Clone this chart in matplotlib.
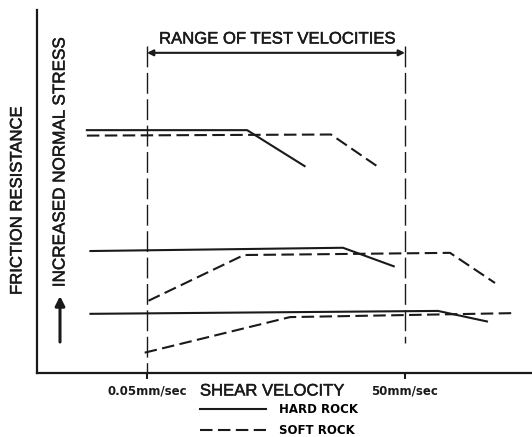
import matplotlib
matplotlib.use("Agg")
import matplotlib.pyplot as plt
import matplotlib.patheffects as pe
from matplotlib.ticker import NullLocator

# shear velocity in mm/sec (log axis), friction resistance in arbitrary units
hard_high_v = [0.01, 0.73, 3.4]
hard_high_f = [66.9, 66.9, 57.0]
soft_high_v = [0.01, 6.9, 23.6]
soft_high_f = [65.4, 65.7, 57.0]

hard_mid_v = [0.011, 9.5, 37]
hard_mid_f = [33.6, 34.5, 29.4]
soft_mid_v = [0.052, 0.67, 167, 557]
soft_mid_f = [19.9, 32.5, 33.1, 24.8]

hard_low_v = [0.011, 121, 449]
hard_low_f = [16.3, 17.1, 14.2]
soft_low_v = [0.047, 2.3, 951]
soft_low_f = [5.6, 15.4, 16.5]

test_range = [0.05, 50]
tick_labels = ['0.05mm/sec', '50mm/sec']

ink = '#1a1a1a'
dash = (0, (6, 2.6))
# scanned lettering is a little heavier than plain Liberation Sans
heavy = [pe.withStroke(linewidth=0.35, foreground=ink)]

fig = plt.figure(figsize=(5.32, 4.37), dpi=100)
ax = fig.add_axes([37 / 532, 64 / 437, 495 / 532, 363 / 437])
ax.set_xscale('log')
ax.set_xlim(0.00263, 1500)
ax.set_ylim(0, 100)

# curves
ax.plot(hard_high_v, hard_high_f, color=ink, lw=1.5, label='HARD ROCK')
ax.plot(soft_high_v, soft_high_f, color=ink, lw=1.5, ls=dash, label='SOFT ROCK')
ax.plot(hard_mid_v, hard_mid_f, color=ink, lw=1.5)
ax.plot(soft_mid_v, soft_mid_f, color=ink, lw=1.5, ls=dash)
ax.plot(hard_low_v, hard_low_f, color=ink, lw=1.5)
ax.plot(soft_low_v, soft_low_f, color=ink, lw=1.5, ls=dash)

# range of test velocities
ax.plot([test_range[0]] * 2, [90, 0], color=ink, lw=1.0, ls=(0, (15, 4)))
ax.plot([test_range[1]] * 2, [90, 8.3], color=ink, lw=1.0, ls=(0, (15, 4)))
ax.annotate('', xy=(test_range[0], 88.2), xytext=(test_range[1], 88.2),
            arrowprops=dict(arrowstyle='<|-|>', color=ink, lw=1.5,
                            mutation_scale=9, shrinkA=0, shrinkB=0))
fig.text(277 / 532, 1 - 39 / 437, 'RANGE OF TEST VELOCITIES', ha='center', va='center',
         fontsize=12, family='Liberation Sans', color=ink, path_effects=heavy)

# axes styling
for side in ['top', 'right']:
    ax.spines[side].set_visible(False)
for side in ['left', 'bottom']:
    ax.spines[side].set_linewidth(1.6)
    ax.spines[side].set_color(ink)
ax.set_yticks([])
ax.xaxis.set_minor_locator(NullLocator())
ax.set_xticks(test_range, labels=tick_labels)
ax.tick_params(axis='x', direction='out', length=4.5, width=1.5, pad=4, colors=ink,
               labelsize=8.5)
for t in ax.get_xticklabels():
    t.set_fontweight('bold')

ax.set_xlabel('SHEAR VELOCITY', fontsize=12, family='Liberation Sans', color=ink,
              va='center', path_effects=heavy)
ax.xaxis.set_label_coords((272 - 37) / 495, -(391 - 373) / 363)

fig.text(17 / 532, 1 - 201 / 437, 'FRICTION RESISTANCE', rotation=90, ha='center',
         va='center', fontsize=12, family='Liberation Sans', color=ink, path_effects=heavy)
fig.text(60 / 532, 1 - 162 / 437, 'INCREASED NORMAL STRESS', rotation=90, ha='center',
         va='center', fontsize=12.3, family='Liberation Sans', color=ink, path_effects=heavy)
ax.annotate('', xy=(60 / 532, 1 - 296 / 437), xytext=(60 / 532, 1 - 342 / 437),
            xycoords='figure fraction', textcoords='figure fraction',
            arrowprops=dict(arrowstyle='-|>', color=ink, lw=2.2, mutation_scale=14,
                            shrinkA=0, shrinkB=0))

leg = fig.legend(loc='upper left', bbox_to_anchor=(200 / 532, 1 - 403 / 437), frameon=False,
                 handlelength=5.6, handletextpad=1.1, labelspacing=0.7,
                 prop={'size': 8.5, 'weight': 'bold'}, borderpad=0, borderaxespad=0)

fig.savefig('out.png', dpi=100)
